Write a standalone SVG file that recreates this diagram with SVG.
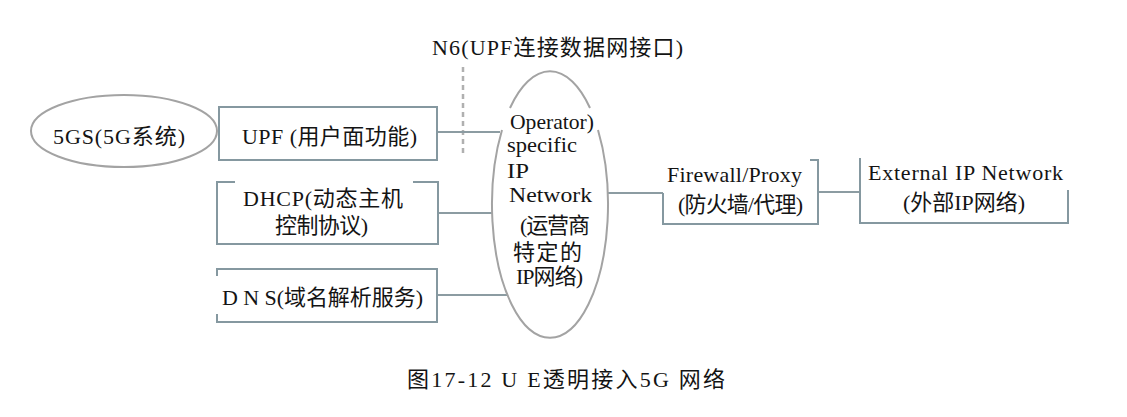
<svg xmlns="http://www.w3.org/2000/svg" width="1127" height="417" viewBox="0 0 1127 417">
<style>
text{font-family:"Liberation Serif","Noto Sans CJK SC",serif;fill:#141414;font-size:22px}
.box{fill:none;stroke:#8598a0;stroke-width:2}
.ell{fill:none;stroke:#a3a3a3;stroke-width:2}
.con{fill:none;stroke:#8c9ca2;stroke-width:2}
.dash{fill:none;stroke:#b0b0b0;stroke-width:2.5;stroke-dasharray:5 4}
</style>
<rect width="1127" height="417" fill="#ffffff"/>
<g id="n6-label">
<line class="dash" x1="463" y1="67" x2="463" y2="157"/>
<text x="432" y="55" textLength="251" font-size="21">N6(UPF连接数据网接口)</text>
</g>
<g id="connectors">
<line class="con" x1="437" y1="132" x2="500" y2="132"/>
<line class="con" x1="438" y1="213" x2="492" y2="213"/>
<line class="con" x1="437" y1="295" x2="507" y2="295"/>
<line class="con" x1="608" y1="193" x2="663" y2="193"/>
<line class="con" x1="818" y1="192" x2="860" y2="192"/>
</g>
<g id="fivegs">
<ellipse class="ell" cx="124" cy="131" rx="93" ry="36"/>
<text x="53" y="144" textLength="132">5GS(5G系统)</text>
</g>
<g id="upf">
<rect class="box" x="219" y="107" width="218" height="53"/>
<text x="242" y="144" textLength="175">UPF (用户面功能)</text>
</g>
<g id="dhcp">
<path class="box" d="M235,182 H217 V244 H438 V182 H413"/>
<text x="243" y="206" textLength="160">DHCP(动态主机</text>
<text x="275" y="233" textLength="93">控制协议)</text>
</g>
<g id="dns">
<path class="box" d="M217,276 V269 H437 V322 H217 V314"/>
<text x="222" y="305" textLength="201">D N S(域名解析服务)</text>
</g>
<g id="operator">
<path class="ell" d="M510,108 A58,133 0 0 1 590,108 M598,130 A58,133 0 1 1 502,130"/>
<text x="510" y="129" font-size="21" textLength="84" lengthAdjust="spacingAndGlyphs">Operator)</text>
<text x="507" y="152" font-size="20" textLength="70" lengthAdjust="spacingAndGlyphs">specific</text>
<text x="507" y="178" font-size="22" textLength="22" lengthAdjust="spacingAndGlyphs">IP</text>
<text x="509" y="202" font-size="21" textLength="83" lengthAdjust="spacingAndGlyphs">Network</text>
<text x="520" y="233" textLength="70">(运营商</text>
<text x="513" y="260" textLength="69">特定的</text>
<text x="516" y="284" textLength="67">IP网络)</text>
</g>
<g id="firewall">
<path class="box" d="M810,160 H818 V224 H663 V193"/>
<text x="667" y="182" textLength="135">Firewall/Proxy</text>
<text x="678" y="212" textLength="125">(防火墙/代理)</text>
</g>
<g id="external">
<path class="box" d="M860,158 V223 H1068 V190"/>
<text x="868" y="180" textLength="195">External IP Network</text>
<text x="903" y="210" textLength="122">(外部IP网络)</text>
</g>
<g id="caption">
<text x="407" y="387" textLength="318" font-size="21">图17-12 U E透明接入5G 网络</text>
</g>
</svg>
